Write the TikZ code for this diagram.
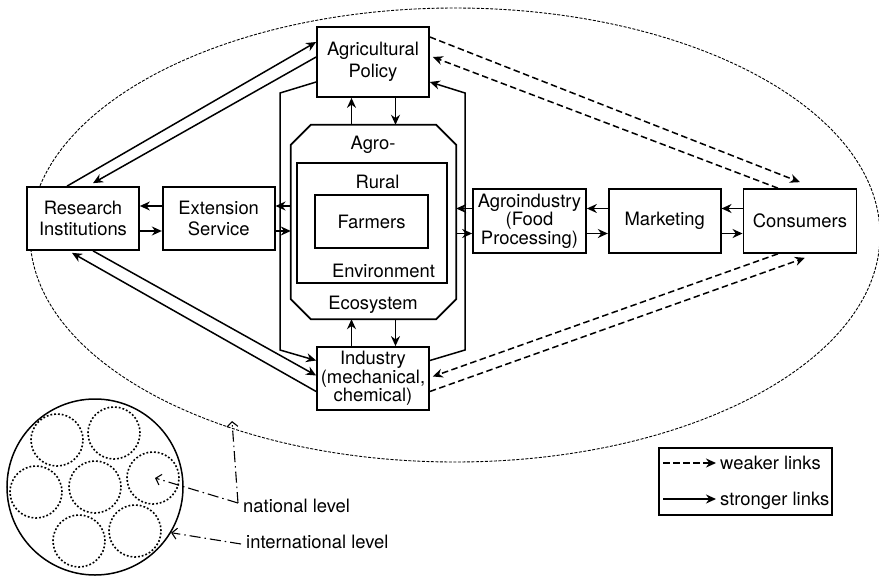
\documentclass[tikz,border=0pt]{standalone}
\usepackage{fontspec}
\setmainfont{TeX Gyre Heros}
\usepackage{tikz}
\usetikzlibrary{arrows.meta, calc, positioning}

\tikzset{
  box/.style={draw, line width=1.7pt, fill=white, align=center, inner sep=2pt},
  tall/.style={font=\fontsize{18.4}{16.7}\selectfont},
  strong/.style={line width=1.5pt, -{Stealth[length=10pt, width=9pt]}},
  weak/.style={strong, dash pattern=on 6.5pt off 3.5pt},
  cell/.style={circle, draw, line width=1.6pt, dash pattern=on 1.8pt off 2pt, minimum size=52pt, inner sep=0pt},
  pointer/.style={line width=1.1pt, dash pattern=on 11pt off 4pt on 1.5pt off 4pt, -{Straight Barb[length=5pt, width=11pt]}}
}

\begin{document}
\begin{tikzpicture}[x=1pt, y=-1pt, font=\fontsize{18.4}{21.6}\selectfont]
    % 1. page frame and the dashed region
    \useasboundingbox (0,0) rectangle (879,576);
    \draw[line width=0.9pt, dash pattern=on 3pt off 1.5pt] (455,235) ellipse [x radius=425pt, y radius=227pt];

    % 2. boxes of the system
    \node[box, minimum width=112pt, minimum height=70pt] (policy) at (373,62) {Agricultural\\Policy};
    \node[box, minimum width=112pt, minimum height=63pt] (research) at (83,218.5) {Research\\Institutions};
    \node[box, minimum width=112pt, minimum height=63pt, right=22pt of research] (extension) {Extension\\Service};
    \node[box, tall, minimum width=112pt, minimum height=63pt] (industry) at (373,378.5) {Industry\\(mechanical,\\chemical)};
    \node[box, tall, minimum width=113pt, minimum height=64pt] (agro) at (529.5,221) {Agroindustry\\(Food\\Processing)};
    \node[box, minimum width=112pt, minimum height=64pt, right=21pt of agro] (marketing) {Marketing};
    \node[box, minimum width=113pt, minimum height=64pt, right=21pt of marketing] (consumers) {Consumers};

    % 3. agro-ecosystem with rural environment and farmers
    \node[minimum width=165pt, minimum height=194pt] (eco) at (373.5,222) {};
    \draw[line width=1.7pt] ($(eco.north west)+(20,0)$) -- ($(eco.north east)+(-20,0)$)
        -- ($(eco.north east)+(0,20)$) -- ($(eco.south east)+(0,-20)$)
        -- ($(eco.south east)+(-20,0)$) -- ($(eco.south west)+(20,0)$)
        -- ($(eco.south west)+(0,-20)$) -- ($(eco.north west)+(0,20)$) -- cycle;
    \node[box, minimum width=150pt, minimum height=120pt] (rural) at (372,223) {};
    \node[box, minimum width=113pt, minimum height=53pt] (farmers) at (371.5,221.5) {Farmers};
    \node[anchor=base] (agrolbl) at (373,149) {Agro-};
    \node[anchor=base] (rurallbl) at (377.5,188) {Rural};
    \node[anchor=base] (envlbl) at (383.5,277) {Environment};
    \node[anchor=base] (ecolbl) at (373,309) {Ecosystem};

    % 4. stronger links
    \foreach \a/\b in {research/extension, agro/marketing, marketing/consumers} {
        \draw[strong] ([yshift=12.5pt]\b.west) -- ([yshift=12.5pt]\a.east);
        \draw[strong] ([yshift=-12.5pt]\a.east) -- ([yshift=-12.5pt]\b.west);
    }
    \draw[strong] ([yshift=12.5pt]extension.east -| eco.west) -- ([yshift=12.5pt]extension.east);
    \draw[strong] ([yshift=-12.5pt]extension.east) -- ([yshift=-12.5pt]extension.east -| eco.west);
    \draw[strong] ([yshift=12.5pt]agro.west) -- ([yshift=12.5pt]agro.west -| eco.east);
    \draw[strong] ([yshift=-12.5pt]agro.west -| eco.east) -- ([yshift=-12.5pt]agro.west);

    \draw[strong] ([xshift=-22pt]eco.north) -- ([xshift=-22pt]eco.north |- policy.south);
    \draw[strong] ([xshift=22pt]eco.north |- policy.south) -- ([xshift=22pt]eco.north);
    \draw[strong] ([xshift=-22pt]eco.south |- industry.north) -- ([xshift=-22pt]eco.south);
    \draw[strong] ([xshift=22pt]eco.south) -- ([xshift=22pt]eco.south |- industry.north);

    \coordinate (lbtop) at (280,93);
    \coordinate (lbbot) at (280,350);
    \coordinate (rbtop) at (465,93);
    \coordinate (rbbot) at (465,350);
    \draw[strong] ([yshift=-20pt]policy.west) -- (lbtop) -- (lbbot) -- ([yshift=18pt]industry.west);
    \draw[strong] ([yshift=18pt]industry.east) -- (rbbot) -- (rbtop) -- ([yshift=-20pt]policy.east);

    \draw[strong] ([xshift=-16pt]research.north) -- ([yshift=20pt]policy.west);
    \draw[strong] ([yshift=5pt]policy.west) -- ([xshift=10pt,yshift=3pt]research.north);
    \draw[strong] ([xshift=10pt]research.south) -- ([yshift=3pt]industry.west);
    \draw[strong] ([yshift=-13pt]industry.west) -- ([xshift=-11pt,yshift=-2pt]research.south);

    % 5. weaker links
    \draw[weak] ([yshift=25pt]policy.east) -- ([yshift=6pt]consumers.north);
    \draw[weak] ([xshift=-22pt]consumers.north) -- ([xshift=3pt,yshift=5pt]policy.east);
    \draw[weak] ([xshift=-22pt]consumers.south) -- ([xshift=3pt,yshift=2pt]industry.east);
    \draw[weak] ([yshift=-13pt]industry.east) -- ([xshift=5pt,yshift=-4pt]consumers.south);

    % 6. world circle with the nations inside
    \node[circle, draw, line width=1.5pt, minimum size=176pt] (world) at (95,487) {};
    \foreach \i/\x/\y in {1/57/440, 2/114/433, 3/153/478, 4/36/492, 5/95/487, 6/79/541, 7/135/531}
        \node[cell] (cell\i) at (\x,\y) {};

    % 7. level pointers
    \node[anchor=base west, inner sep=0pt] (natl) at (243,512) {national level};
    \node[anchor=base west, inner sep=0pt] (intl) at (246,548) {international level};
    \coordinate (natbend) at (238,503);
    \coordinate (rim) at (232,421);
    \draw[pointer] (natbend) -- (rim);
    \draw[pointer] (natbend) -- ([xshift=2pt]cell3.center);
    \draw[pointer] ([xshift=-5pt,yshift=4pt]intl.base west) -- (world.-31.5);

    % 8. legend
    \node[box, minimum width=173pt, minimum height=67pt] (legend) at (745.5,481.5) {};
    \node[anchor=base west, inner sep=0pt] (weaktxt) at (720,469) {weaker links};
    \node[anchor=base west, inner sep=0pt] (strongtxt) at (720,505) {stronger links};
    \coordinate (wk) at (663,463);
    \coordinate (st) at (663,499);
    \draw[weak] (wk) -- ([xshift=-4pt,yshift=6pt]weaktxt.base west);
    \draw[strong] (st) -- ([xshift=-4pt,yshift=6pt]strongtxt.base west);
\end{tikzpicture}
\end{document}
